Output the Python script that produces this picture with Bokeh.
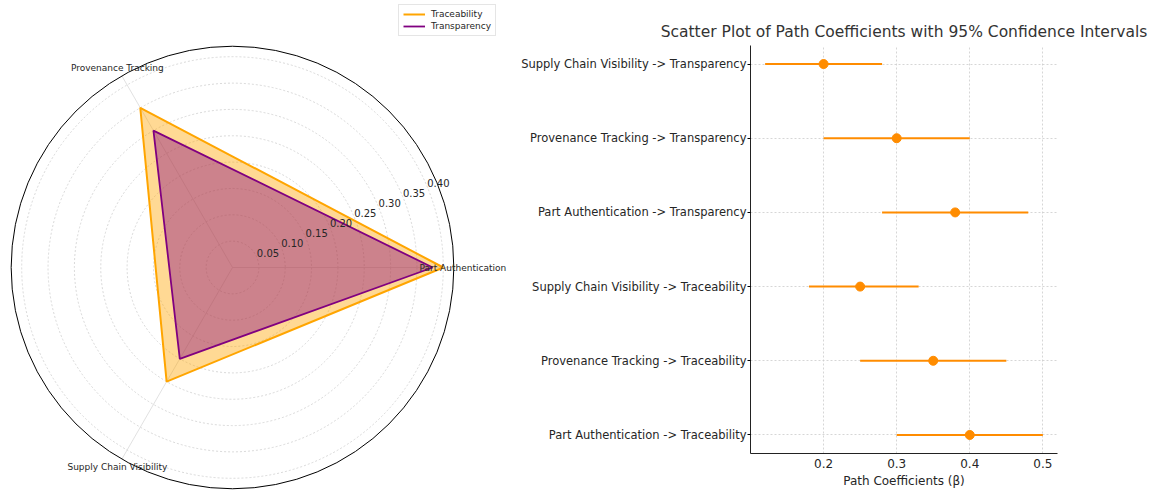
import numpy as np
from bokeh.plotting import figure
from bokeh.layouts import row, column
from bokeh.models import Range1d, FixedTicker, Legend, LegendItem
from bokeh.embed import file_html
from bokeh.resources import INLINE
from bokeh.core.properties import value

# ---------------- data ----------------
categories = ["Part Authentication", "Provenance Tracking", "Supply Chain Visibility"]
traceability = [0.40, 0.35, 0.25]
transparency = [0.38, 0.30, 0.20]
radial_ticks = [0.05, 0.10, 0.15, 0.20, 0.25, 0.30, 0.35, 0.40]
radial_labels = ["0.05", "0.10", "0.15", "0.20", "0.25", "0.30", "0.35", "0.40"]
r_max = 0.42

paths = [
    "Part Authentication -> Traceability",
    "Provenance Tracking -> Traceability",
    "Supply Chain Visibility -> Traceability",
    "Part Authentication -> Transparency",
    "Provenance Tracking -> Transparency",
    "Supply Chain Visibility -> Transparency",
]
coefficients = [0.40, 0.35, 0.25, 0.38, 0.30, 0.20]
ci_lower = [0.30, 0.25, 0.18, 0.28, 0.20, 0.12]
ci_upper = [0.50, 0.45, 0.33, 0.48, 0.40, 0.28]
x_ticks = [0.2, 0.3, 0.4, 0.5]

FONT = "DejaVu Sans"
TXT = "#262626"

# ---------------- radar ----------------
W1, H1 = 518, 490
S = 527.0            # px per data unit
CX, CY = 232, 223    # centre in figure px (from left, from bottom)
p1 = figure(width=W1, height=H1, output_backend="svg", toolbar_location=None,
            x_range=Range1d(-CX / S, (W1 - CX) / S),
            y_range=Range1d(-CY / S, (H1 - CY) / S),
            min_border=0, outline_line_color=None, tools="",
            x_axis_location=None, y_axis_location=None)
p1.grid.visible = False

n = len(categories)
angles = np.linspace(0, 2 * np.pi, n, endpoint=False)

# grid rings and spokes
p1.circle(x=[0] * len(radial_ticks), y=[0] * len(radial_ticks), radius=radial_ticks,
          fill_color=None, line_color="#cfcfcf", line_dash="2 2", line_width=0.8)
p1.segment(x0=[0] * n, y0=[0] * n, x1=list(r_max * np.cos(angles)), y1=list(r_max * np.sin(angles)),
           line_color="#d9d9d9", line_width=0.8)


def closed(vals):
    v = np.array(vals + vals[:1])
    a = np.concatenate([angles, angles[:1]])
    return list(v * np.cos(a)), list(v * np.sin(a))


tx, ty = closed(traceability)
rx, ry = closed(transparency)
p1.patch(tx, ty, fill_color="orange", fill_alpha=0.42, line_color=None)
l_trace = p1.line(tx, ty, line_color="orange", line_width=2)
p1.patch(rx, ry, fill_color="purple", fill_alpha=0.4, line_color=None)
l_trans = p1.line(rx, ry, line_color="purple", line_width=1.8)

# outer circle
p1.circle(x=[0], y=[0], radius=r_max, fill_color=None, line_color="black", line_width=1)

# radial labels
ra = np.deg2rad(22.5)
p1.text(x=[r * np.cos(ra) for r in radial_ticks], y=[r * np.sin(ra) for r in radial_ticks],
        text=radial_labels, text_font=value(FONT), text_font_size="10px", text_color=TXT,
        text_align="left", text_baseline="bottom")

# category labels
rl = 0.437
p1.text(x=list(rl * np.cos(angles)), y=list(rl * np.sin(angles)), text=categories,
        text_font=value(FONT), text_font_size="9px", text_color=TXT,
        text_align="center", text_baseline="middle")

legend = Legend(items=[LegendItem(label="Traceability", renderers=[l_trace]),
                       LegendItem(label="Transparency", renderers=[l_trans])],
                location=(398, H1 - 36), label_text_font=FONT, label_text_font_size="9px",
                label_text_color=TXT, glyph_height=10, glyph_width=22, label_height=10,
                padding=4, spacing=2, margin=0, label_standoff=6,
                border_line_color="#cccccc", border_line_width=1,
                background_fill_alpha=0.9)
p1.add_layout(legend)

# ---------------- scatter ----------------
W2, H2 = 632, 490
ys = list(range(len(paths)))
p2 = figure(width=W2, height=H2, output_backend="svg", toolbar_location=None, tools="",
            x_range=Range1d(0.1, 0.52), y_range=Range1d(-0.25, len(paths) - 0.75),
            min_border_left=232, min_border_right=93, min_border_top=45, min_border_bottom=37,
            outline_line_color=None)
p2.title.text = "Scatter Plot of Path Coefficients with 95% Confidence Intervals"
p2.title.align = "center"
p2.title.text_font = FONT
p2.title.text_font_size = "15.5px"
p2.title.text_font_style = "normal"
p2.title.text_color = "#333333"

p2.segment(x0=ci_lower, y0=ys, x1=ci_upper, y1=ys, line_color="darkorange", line_width=2)
p2.scatter(x=coefficients, y=ys, size=9, fill_color="darkorange", line_color="darkorange")

p2.yaxis.ticker = FixedTicker(ticks=ys)
p2.yaxis.major_label_overrides = {i: paths[i] for i in ys}
p2.xaxis.ticker = FixedTicker(ticks=x_ticks)
p2.xaxis.axis_label = "Path Coefficients (β)"
for ax in (p2.xaxis, p2.yaxis):
    ax.axis_line_color = "#222222"
    ax.axis_line_width = 1
    ax.minor_tick_line_color = None
    ax.major_label_text_font = FONT
    ax.major_label_text_color = TXT
    ax.axis_label_text_font = FONT
    ax.axis_label_text_font_size = "12px"
    ax.axis_label_text_font_style = "normal"
    ax.axis_label_text_color = TXT
p2.xaxis.major_label_text_font_size = "12px"
p2.yaxis.major_label_text_font_size = "11.5px"
p2.xaxis.major_tick_out = 0
p2.xaxis.major_tick_in = 0
p2.xaxis.major_label_standoff = 5
p2.xaxis.axis_label_standoff = 3
p2.yaxis.major_tick_out = 3
p2.yaxis.major_tick_in = 0
p2.yaxis.major_label_standoff = 1

p2.xgrid.ticker = FixedTicker(ticks=x_ticks)
p2.ygrid.ticker = FixedTicker(ticks=ys)
for g in (p2.xgrid, p2.ygrid):
    g.grid_line_color = "#cccccc"
    g.grid_line_dash = "2 2"
    g.grid_line_width = 0.8

layout = row(column(p1), column(p2))
open("out.html", "w").write(file_html(layout, INLINE))
